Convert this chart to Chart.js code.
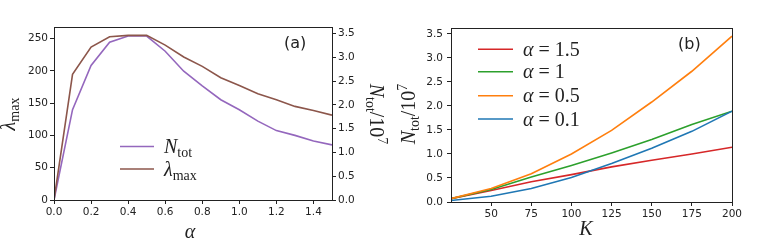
<!DOCTYPE html>
<html>
<head>
<meta charset="utf-8">
<script src="https://cdn.jsdelivr.net/npm/chart.js@4"></script>
<style>
  html, body { margin: 0; padding: 0; background: #fff; }
  #wrap { position: relative; width: 769px; height: 240px; overflow: hidden; }
  canvas { position: absolute; top: 0; }
  #chartA { left: 0; }
  #chartB { left: 390px; }
</style>
</head>
<body>
<div id="wrap">
  <canvas id="chartA" width="390" height="240"></canvas>
  <canvas id="chartB" width="379" height="240"></canvas>
</div>
<script>
// ---------- Data: panel (a) ----------
const alpha = [0, 0.1, 0.2, 0.3, 0.4, 0.5, 0.6, 0.7, 0.8, 0.9, 1.0, 1.1, 1.2, 1.3, 1.4, 1.5];
const lambdaMax = [0, 194.6, 237, 253, 255, 255, 240, 221.5, 207, 189.4, 177.5, 164.6, 155.3, 145, 138.7, 131.5];
const nTot = [0, 1.90, 2.83, 3.32, 3.45, 3.45, 3.13, 2.71, 2.40, 2.11, 1.90, 1.66, 1.46, 1.36, 1.24, 1.16];

const alphaTicks = [0, 0.2, 0.4, 0.6, 0.8, 1.0, 1.2, 1.4];
const lambdaTicks = [0, 50, 100, 150, 200, 250];
const nTicks = [0, 0.5, 1.0, 1.5, 2.0, 2.5, 3.0, 3.5];

// ---------- Data: panel (b) ----------
const K = [25, 50, 75, 100, 125, 150, 175, 200];
const nA15 = [0.07, 0.24, 0.42, 0.57, 0.73, 0.87, 1.00, 1.14];
const nA1 = [0.07, 0.26, 0.52, 0.76, 1.02, 1.30, 1.61, 1.89];
const nA05 = [0.07, 0.28, 0.59, 1.00, 1.49, 2.08, 2.72, 3.45];
const nA01 = [0.03, 0.12, 0.28, 0.51, 0.80, 1.12, 1.47, 1.89];
const kTicks = [50, 75, 100, 125, 150, 175, 200];

const INK = "#222";
const tickFont = { family: "DejaVu Sans", size: 10.5 };
const SERIF = '"Liberation Serif", "DejaVu Serif", serif';

// ---------- helpers ----------
function xy(xs, ys) {
  return xs.map((x, i) => ({ x: x, y: ys[i] }));
}

function fixedTicks(list) {
  return (axis) => { axis.ticks = list.map((v) => ({ value: v })); };
}

function axisOpts(o) {
  return {
    type: "linear",
    position: o.position,
    min: o.min,
    max: o.max,
    afterBuildTicks: fixedTicks(o.ticks),
    afterFit: (s) => {
      if (o.width !== undefined) s.width = o.width;
      if (o.height !== undefined) s.height = o.height;
    },
    ticks: {
      color: INK,
      font: tickFont,
      padding: o.pad,
      maxRotation: 0,
      autoSkip: false,
      callback: o.fmt
    },
    grid: { display: true, drawOnChartArea: false, drawTicks: true, tickLength: 4, color: INK, lineWidth: 1 },
    border: { display: false }
  };
}

// draws mathtext-ish strings: italic symbols, sub/superscripts
function mathText(ctx, parts, x, y, size, align, angle) {
  ctx.save();
  ctx.translate(x, y);
  ctx.rotate(angle || 0);
  ctx.fillStyle = INK;
  ctx.textBaseline = "alphabetic";
  ctx.textAlign = "left";
  let w = 0;
  const fontOf = (p) => (p.it ? "italic " : "") + Math.round(size * (p.s || 1)) + "px " + SERIF;
  parts.forEach((p) => {
    ctx.font = fontOf(p);
    p.w = ctx.measureText(p.t).width;
    w += p.w;
  });
  let cx = align === "center" ? -w / 2 : 0;
  parts.forEach((p) => {
    ctx.font = fontOf(p);
    ctx.fillText(p.t, cx, (p.dy || 0) * size);
    cx += p.w;
  });
  ctx.restore();
}

const N_TOT = [{ t: "N", it: 1 }, { t: "tot", s: 0.7, dy: 0.22 }];
const LAMBDA = [{ t: "λ", it: 1 }, { t: "max", s: 0.7, dy: 0.22 }];
const N_LABEL = [{ t: "N", it: 1 }, { t: "tot", s: 0.7, dy: 0.22 }, { t: "/10" }, { t: "7", s: 0.7, dy: -0.42 }];

function frame(chart) {
  const a = chart.chartArea;
  const ctx = chart.ctx;
  ctx.save();
  ctx.strokeStyle = INK;
  ctx.lineWidth = 1;
  ctx.strokeRect(Math.round(a.left) + 0.5, Math.round(a.top) + 0.5,
    Math.round(a.right - a.left), Math.round(a.bottom - a.top));
  ctx.restore();
}

function legend(ctx, items, x0, x1, tx, size) {
  items.forEach((it) => {
    ctx.save();
    ctx.strokeStyle = it.color;
    ctx.lineWidth = 1.5;
    ctx.beginPath();
    ctx.moveTo(x0, it.y);
    ctx.lineTo(x1, it.y);
    ctx.stroke();
    ctx.restore();
    mathText(ctx, it.parts, tx, it.y + 6.5, size, "left");
  });
}

function panelTag(ctx, txt, x, y) {
  ctx.save();
  ctx.fillStyle = INK;
  ctx.font = "16px 'DejaVu Sans'";
  ctx.textBaseline = "middle";
  ctx.fillText(txt, x, y);
  ctx.restore();
}

// ---------- Panel (a) ----------
const decorA = {
  id: "decorA",
  afterDraw(chart) {
    const ctx = chart.ctx;
    frame(chart);
    panelTag(ctx, "(a)", 284, 44);
    legend(ctx, [
      { y: 146.5, color: "#9467bd", parts: N_TOT },
      { y: 169, color: "#8c564b", parts: LAMBDA }
    ], 120, 154, 164, 20);
    mathText(ctx, [{ t: "α", it: 1 }], 190, 238, 20, "center");
    mathText(ctx, LAMBDA, 15, 114, 20, "center", -Math.PI / 2);
    mathText(ctx, N_LABEL, 370, 114, 20, "center", Math.PI / 2);
  }
};

new Chart(document.getElementById("chartA"), {
  type: "line",
  data: {
    datasets: [
      { label: "N_tot", data: xy(alpha, nTot), yAxisID: "y2", borderColor: "#9467bd", order: 2 },
      { label: "lambda_max", data: xy(alpha, lambdaMax), yAxisID: "y", borderColor: "#8c564b", order: 1 }
    ]
  },
  options: {
    responsive: false,
    animation: false,
    devicePixelRatio: 1,
    layout: { padding: { top: 27, left: 0, right: 0, bottom: 0 } },
    elements: { line: { borderWidth: 1.6, tension: 0 }, point: { radius: 0 } },
    plugins: { legend: { display: false }, tooltip: { enabled: false } },
    scales: {
      x: axisOpts({ position: "bottom", min: 0, max: 1.5, ticks: alphaTicks, height: 40, pad: 2, fmt: (v) => v.toFixed(1) }),
      y: axisOpts({ position: "left", min: 0, max: 268, ticks: lambdaTicks, width: 54, pad: 2, fmt: (v) => String(v) }),
      y2: axisOpts({ position: "right", min: 0, max: 3.64, ticks: nTicks, width: 58, pad: 2, fmt: (v) => v.toFixed(1) })
    }
  },
  plugins: [decorA]
});

// ---------- Panel (b) ----------
const decorB = {
  id: "decorB",
  afterDraw(chart) {
    const ctx = chart.ctx;
    frame(chart);
    panelTag(ctx, "(b)", 288, 45);
    legend(ctx, [
      { y: 49.3, color: "#d62728", parts: [{ t: "α", it: 1 }, { t: " = 1.5" }] },
      { y: 71.7, color: "#2ca02c", parts: [{ t: "α", it: 1 }, { t: " = 1" }] },
      { y: 95.7, color: "#ff7f0e", parts: [{ t: "α", it: 1 }, { t: " = 0.5" }] },
      { y: 119, color: "#1f77b4", parts: [{ t: "α", it: 1 }, { t: " = 0.1" }] }
    ], 88, 123, 133, 20);
    mathText(ctx, [{ t: "K", it: 1 }], 196, 235, 20, "center");
    mathText(ctx, N_LABEL, 25, 114, 20, "center", -Math.PI / 2);
  }
};

new Chart(document.getElementById("chartB"), {
  type: "line",
  data: {
    datasets: [
      { label: "alpha=1.5", data: xy(K, nA15), borderColor: "#d62728", order: 4 },
      { label: "alpha=1", data: xy(K, nA1), borderColor: "#2ca02c", order: 3 },
      { label: "alpha=0.5", data: xy(K, nA05), borderColor: "#ff7f0e", order: 2 },
      { label: "alpha=0.1", data: xy(K, nA01), borderColor: "#1f77b4", order: 1 }
    ]
  },
  options: {
    responsive: false,
    animation: false,
    devicePixelRatio: 1,
    layout: { padding: { top: 28, left: 0, right: 37, bottom: 0 } },
    elements: { line: { borderWidth: 1.6, tension: 0 }, point: { radius: 0 } },
    plugins: { legend: { display: false }, tooltip: { enabled: false } },
    scales: {
      x: axisOpts({ position: "bottom", min: 25, max: 200, ticks: kTicks, height: 38, pad: 2, fmt: (v) => String(v) }),
      y: axisOpts({ position: "left", min: 0, max: 3.62, ticks: nTicks, width: 61, pad: 4, fmt: (v) => v.toFixed(1) })
    }
  },
  plugins: [decorB]
});
</script>
</body>
</html>
